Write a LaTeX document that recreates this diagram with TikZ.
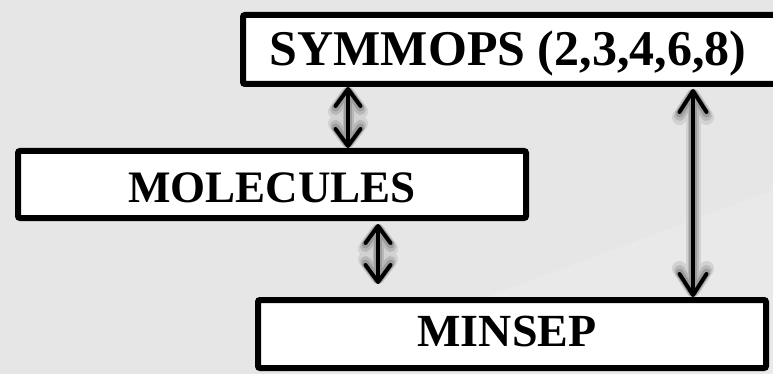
\documentclass[tikz,border=0pt]{standalone}
\usepackage{fontspec}
\setmainfont{Liberation Serif}
\usetikzlibrary{arrows.meta}
\definecolor{bgcol}{HTML}{E6E6E6}
\definecolor{bglight}{HTML}{E9E9E9}
\definecolor{glowA}{HTML}{D2D2D2}
\definecolor{glowB}{HTML}{B8B8B8}
\definecolor{glowC}{HTML}{9C9C9C}
\begin{document}
\begin{tikzpicture}[x=1pt,y=-1pt,
  box/.style={draw=black, fill=white, line width=6pt, rounded corners=2pt, inner sep=0pt},
  dbl/.style={{Straight Barb[length=17pt,width=25pt,round]}-{Straight Barb[length=17pt,width=25pt,round]}},
  dblbig/.style={{Straight Barb[length=21pt,width=27pt,round]}-{Straight Barb[length=21pt,width=27pt,round]}},
  conn/.style={draw=black, line width=4pt}
]
\useasboundingbox (0,0) rectangle (773,374);
\fill[bgcol] (0,0) rectangle (773,374);
\fill[bglight] (280,374) -- (773,190) -- (773,374) -- cycle;

\node[box, minimum width=544pt, minimum height=69pt,
  font=\fontsize{50}{60}\selectfont\bfseries, text height=33pt, text depth=0pt]
  (sym) at (515,49.5) {\hspace*{-14pt}SYMMOPS (2,3,4,6,8)};
\node[box, minimum width=508pt, minimum height=67pt,
  font=\fontsize{45}{54}\selectfont\bfseries, text height=35pt, text depth=0pt]
  (mol) at (272,184.5) {MOLECULES};
\node[box, minimum width=508pt, minimum height=68pt,
  font=\fontsize{46}{55}\selectfont\bfseries, text height=30.5pt, text depth=5pt]
  (min) at (512,334) {\hspace*{-10pt}MINSEP};

\coordinate (c1) at (348,0);
\coordinate (c2) at (378,0);
\coordinate (c3) at (693,0);

\foreach \w/\c in {15/glowA,11/glowB,7.5/glowC}{
  \draw[dbl, line width=\w pt, draw=\c] (sym.south -| c1) -- (mol.north -| c1);
  \draw[dbl, line width=\w pt, draw=\c, shorten <=3pt, shorten >=13pt] (mol.south -| c2) -- (min.north -| c2);
  \draw[dblbig, line width=\w pt, draw=\c, shorten <=2pt] (sym.south -| c3) -- (min.north -| c3);
}
\draw[conn, dbl] (sym.south -| c1) -- (mol.north -| c1);
\draw[conn, dbl, shorten <=3pt, shorten >=13pt] (mol.south -| c2) -- (min.north -| c2);
\draw[conn, dblbig, shorten <=2pt] (sym.south -| c3) -- (min.north -| c3);
\end{tikzpicture}
\end{document}
